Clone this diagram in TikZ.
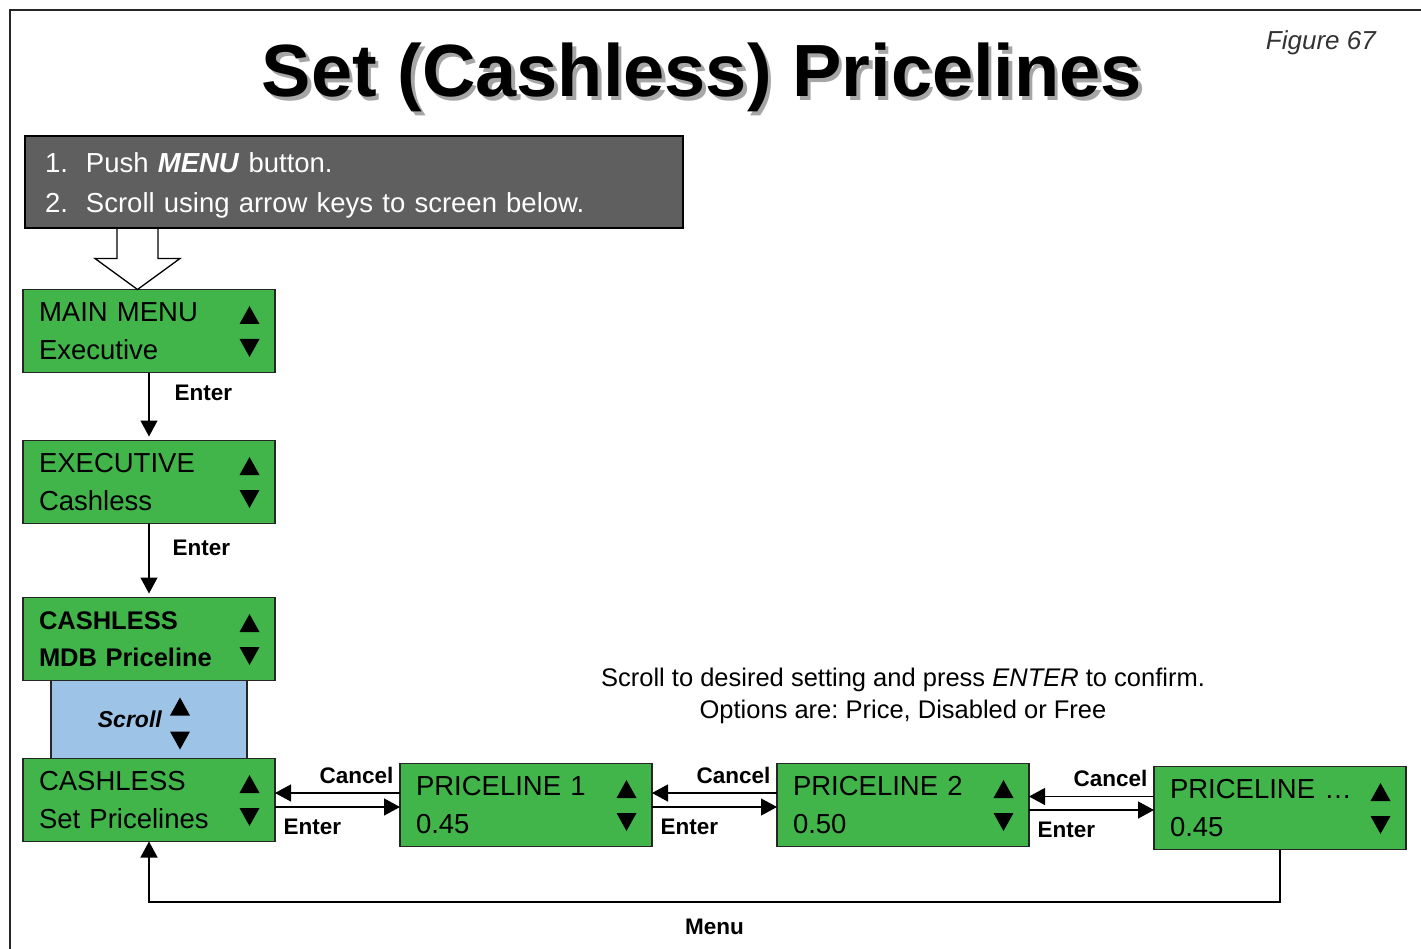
\documentclass[tikz,border=0pt]{standalone}
\usepackage{fontspec}
\setmainfont{Liberation Sans}
\usetikzlibrary{positioning, arrows.meta, calc}
\frenchspacing

\definecolor{screengreen}{RGB}{66,181,74}
\definecolor{scrollblue}{RGB}{157,195,230}
\definecolor{stepgray}{RGB}{95,95,95}

% up / down keys at the right edge of a screen
\newcommand{\updn}[1]{%
  \pic at ([shift={(-25.5,-16)}]#1.east) {uptri};
  \pic at ([shift={(-25.5,17)}]#1.east) {dntri};}

\begin{document}
\begin{tikzpicture}[
    x=1pt, y=-1pt,
    screen/.style={
        rectangle, draw=black!85, line width=1.6pt, fill=screengreen,
        minimum width=252pt, minimum height=83pt, text width=220pt,
        inner xsep=16pt, inner ysep=0pt, outer sep=0pt, align=left,
        font=\fontsize{27.5}{38}\selectfont
    },
    scrollbox/.style={
        rectangle, draw=black!85, line width=1.6pt, fill=scrollblue,
        minimum width=196pt, minimum height=78pt, outer sep=0pt
    },
    instr/.style={
        rectangle, draw=black, line width=1.3pt, fill=stepgray, text=white,
        minimum width=658pt, minimum height=92pt, text width=618pt,
        inner xsep=20pt, align=left, font=\fontsize{27.5}{40}\selectfont
    },
    title/.style={font=\bfseries\fontsize{74}{80}\selectfont, anchor=base, inner sep=0pt},
    lbl/.style={font=\bfseries\fontsize{22.5}{27}\selectfont, inner sep=0pt},
    cancel lbl/.style={lbl, anchor=base east, xshift=-6pt, yshift=10pt},
    enter lbl/.style={lbl, anchor=base west, xshift=8pt, yshift=-27pt},
    note/.style={align=center, inner sep=0pt, font=\fontsize{25.5}{32}\selectfont},
    arr/.style={-{Triangle[length=16pt, width=17pt]}, line width=1.3pt},
    hollow/.style={draw=black, line width=1.3pt},
    uptri/.pic={\fill (-10,9) -- (10,9) -- (0,-9) -- cycle;},
    dntri/.pic={\fill (-10,-9) -- (10,-9) -- (0,9) -- cycle;}
]
\useasboundingbox (0,0) rectangle (1421,949);

% ---------------- Frame and title ----------------
\draw[line width=1.5pt, black!85] (10,949) -- (10,10) -- (1421,10);
\node[title, text=black!35] (titleshadow) at (705.5,100.5) {Set (Cashless) Pricelines};
\node[title] (title) at (702,97) {Set (Cashless) Pricelines};
\node[font=\itshape\fontsize{26}{30}\selectfont, text=black!80, anchor=base east, inner sep=0pt] (figno) at (1376,50) {Figure 67};

% ---------------- Instructions ----------------
\node[instr] (steps) at (354,182) {\rule{0pt}{26pt}\makebox[41pt][l]{1.}Push \textbf{\textit{MENU}} button.\\\makebox[41pt][l]{2.}Scroll using arrow keys to screen below.};

% ---------------- Menu screens ----------------
\node[screen] (mainmenu) at (149,331) {MAIN MENU\\Executive};
\node[screen, below=68pt of mainmenu] (executive) {EXECUTIVE\\Cashless};
\node[screen, below=74pt of executive, font=\bfseries\fontsize{25.5}{37}\selectfont] (mdb) {CASHLESS\\MDB Priceline};
\node[scrollbox, below=0pt of mdb] (scroll) {};
\node[font=\bfseries\itshape\fontsize{23}{28}\selectfont, anchor=east, inner sep=0pt] (scrolltxt) at ([xshift=13pt]scroll.center) {Scroll};
\node[screen, below=0pt of scroll] (setprice) {CASHLESS\\Set Pricelines};

% ---------------- Priceline screens ----------------
\node[screen, right=125pt of setprice, yshift=-5pt] (pl1) {PRICELINE 1\\0.45};
\node[screen, right=125pt of pl1] (pl2) {PRICELINE 2\\0.50};
\node[screen, right=125pt of pl2, yshift=-3pt] (plx) {PRICELINE …\\0.45};

\node[note] (hint) at (903,696) {Scroll to desired setting and press \textit{ENTER} to confirm.\\Options are: Price, Disabled or Free};

% ---------------- Keys ----------------
\updn{mainmenu}
\updn{executive}
\updn{mdb}
\updn{setprice}
\updn{pl1}
\updn{pl2}
\updn{plx}
\pic at ([shift={(31,-13)}]scroll.center) {uptri};
\pic at ([shift={(31,21)}]scroll.center) {dntri};

% ---------------- Arrows ----------------
\coordinate (tip) at ([xshift=-11.5pt]mainmenu.north);
\draw[hollow] ([shift={(-20.5,-61)}]tip) -- ++(0,30) -- ++(-22,0) -- (tip) -- ++(42.5,-31) -- ++(-22,0) -- ++(0,-30);

\draw[arr, shorten >=4pt] (mainmenu) -- node[lbl, pos=0.3, anchor=west, xshift=25pt] {Enter} (executive);
\draw[arr, shorten >=4pt] (executive) -- node[lbl, pos=0.33, anchor=west, xshift=23pt] {Enter} (mdb);

\draw[arr] ([yshift=12pt]pl1.west) node[cancel lbl] {Cancel} -- ([yshift=12pt]pl1.west -| setprice.east);
\draw[arr] ([yshift=-7pt]setprice.east) node[enter lbl] {Enter} -- ([yshift=-7pt]setprice.east -| pl1.west);
\draw[arr] ([yshift=12pt]pl2.west) node[cancel lbl] {Cancel} -- ([yshift=12pt]pl2.west -| pl1.east);
\draw[arr] ([yshift=-2pt]pl1.east) node[enter lbl] {Enter} -- ([yshift=-2pt]pl1.east -| pl2.west);
\draw[arr] ([yshift=11.5pt]plx.west) node[cancel lbl] {Cancel} -- ([yshift=11.5pt]plx.west -| pl2.east);
\draw[arr] ([yshift=-5pt]pl2.east) node[enter lbl] {Enter} -- ([yshift=-5pt]pl2.east -| plx.west);

\draw[arr] (plx.south) -- ++(0,52.5) -| node[lbl, pos=0.25, below=16pt] {Menu} (setprice.south);

\end{tikzpicture}
\end{document}
